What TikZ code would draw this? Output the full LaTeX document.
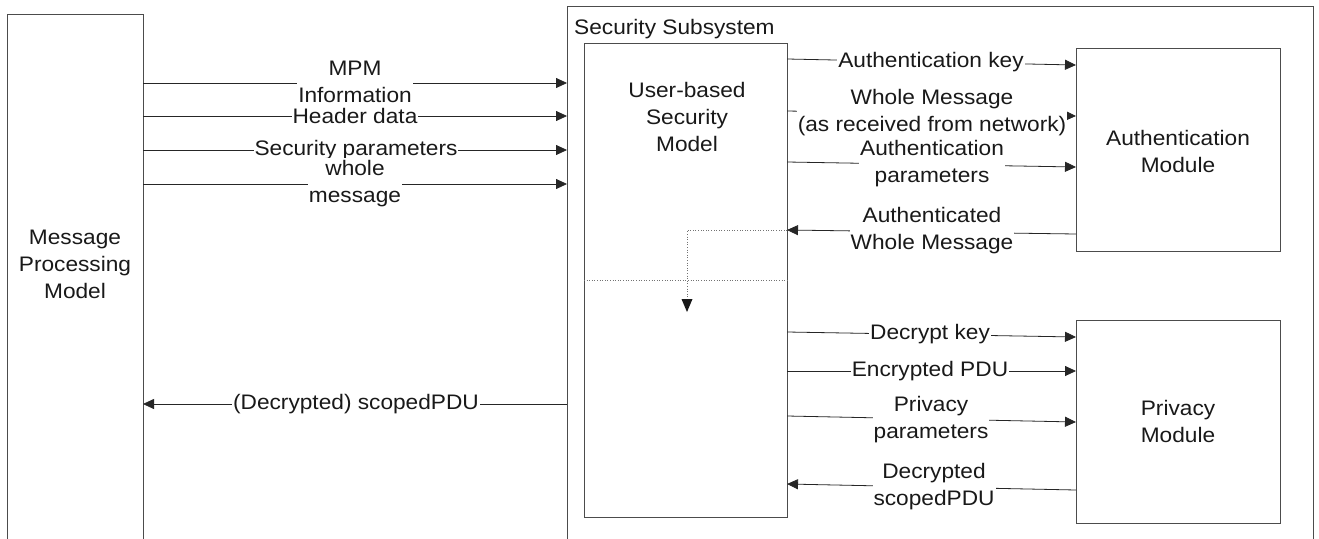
\documentclass[tikz,border=0pt]{standalone}
\usepackage{fontspec}
\setmainfont{Liberation Sans}[FakeStretch=1.08]
\usetikzlibrary{arrows.meta}
\begin{document}
\begin{tikzpicture}[x=1pt,y=-1pt,
  box/.style={draw=black!70, line width=0.8pt, inner sep=0pt, outer sep=0pt, rectangle},
  txt/.style={font=\fontsize{21}{27}\selectfont, align=center, inner sep=0pt, text=black!90},
  lbl/.style={txt, fill=white, inner xsep=1pt, inner ysep=1pt},
  conn/.style={draw=black!85, line width=0.8pt},
  arr/.style={conn, -{Triangle[length=11pt,width=10pt]}},
  dotline/.style={draw=black!55, line width=0.6pt, dotted}
]
\useasboundingbox (0,0) rectangle (1319,538);
\clip (0,0) rectangle (1319,538);
\fill[white] (0,0) rectangle (1319,538);

% boxes
\node[box, minimum width=136pt, minimum height=546pt] (mpm) at (75,287) {};
\node[box, minimum width=746pt, minimum height=554pt] (sec) at (940,283) {};
\node[box, fill=white, minimum width=203pt, minimum height=474pt] (usm) at (685.5,280) {};
\node[box, minimum width=204pt, minimum height=203pt] (auth) at (1178,149.5) {};
\node[box, minimum width=204pt, minimum height=203pt] (priv) at (1178,421.5) {};

% box texts
\node[txt] (mpmtext) at (75,264) {Message\\Processing\\Model};
\node[txt, anchor=west] (sectext) at (574,29) {Security Subsystem};
\node[txt] (usmtext) at (687,117) {User-based\\Security\\Model};
\node[txt] (authtext) at (1178,151) {Authentication\\Module};
\node[txt] (privtext) at (1178,421) {Privacy\\Module};

% MPM -> USM arrows
\draw[arr] (mpm.east |- 0,83) -- (sec.west |- 0,83);
\draw[arr] (mpm.east |- 0,116) -- (sec.west |- 0,116);
\draw[arr] (mpm.east |- 0,150) -- (sec.west |- 0,150);
\draw[arr] (mpm.east |- 0,184) -- (sec.west |- 0,184);
\draw[arr] (sec.west |- 0,404) -- (mpm.east |- 0,404);

\node[lbl] (lmpm) at (355,82) {MPM\\Information};
\node[lbl, inner ysep=4pt] (lheader) at (355,116) {Header data};
\node[lbl] (lsecp) at (356,150) {Security parameters};
\node[lbl, inner ysep=3pt] (lwhole) at (355,184) {whole\\message};
\node[lbl] (ldec) at (356,404) {(Decrypted) scopedPDU};

% dotted internal flow
\draw[dotline] (usm.west |- 0,280) -- (usm.east |- 0,280);
\coordinate (dottip) at (687,312);
\draw[dotline] (usm.east |- 0,230) -| (687,299);
\fill[black!90] (681.5,299) -- (692.5,299) -- (dottip) -- cycle;

% USM <-> Authentication module
\draw[arr] (usm.east |- 0,59) -- (auth.west |- 0,65);
\draw[arr] (usm.east |- 0,111) -- (auth.west |- 0,116);
\draw[arr] (usm.east |- 0,162) -- (auth.west |- 0,167);
\draw[arr] (auth.west |- 0,234) -- (usm.east |- 0,230);

\node[lbl] (lakey) at (931,62) {Authentication key};
\node[lbl] (lwm) at (932,113) {Whole Message\\(as received from network)};
\node[lbl] (lap) at (932,164) {Authentication\\parameters};
\node[lbl] (lawm) at (932,231) {Authenticated\\Whole Message};

% USM <-> Privacy module
\draw[arr] (usm.east |- 0,332) -- (priv.west |- 0,337);
\draw[arr] (usm.east |- 0,371) -- (priv.west |- 0,371);
\draw[arr] (usm.east |- 0,416) -- (priv.west |- 0,422);
\draw[arr] (priv.west |- 0,490) -- (usm.east |- 0,484);

\node[lbl] (ldk) at (930,334) {Decrypt key};
\node[lbl] (lep) at (930,371) {Encrypted PDU};
\node[lbl] (lpp) at (931,420) {Privacy\\parameters};
\node[lbl] (lds) at (934,487) {Decrypted\\scopedPDU};
\end{tikzpicture}
\end{document}
